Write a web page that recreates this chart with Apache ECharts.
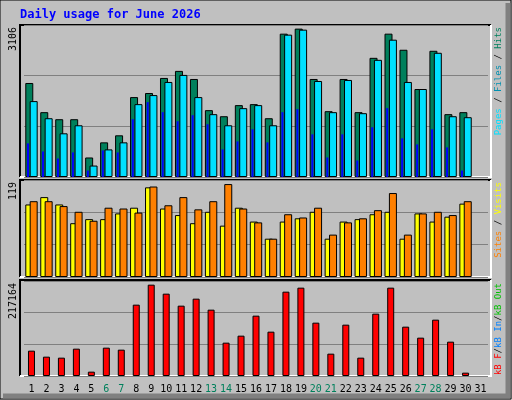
<!DOCTYPE html>
<html><head><meta charset="utf-8">
<script src="https://cdn.jsdelivr.net/npm/echarts@6/dist/echarts.min.js"></script>
<style>html,body{margin:0;padding:0;background:#c0c0c0}#c{width:512px;height:400px}</style>
</head><body><div id="c"></div>
<script>
const days = ['1','2','3','4','5','6','7','8','9','10','11','12','13','14','15','16','17','18','19','20','21','22','23','24','25','26','27','28','29','30','31'];
const weekend = ['6','7','13','14','20','21','27','28'];
const hits  = [1921,1325,1181,1181,399,708,852,1633,1716,2024,2168,2003,1366,1242,1469,1489,1201,2929,3032,2003,1345,2003,1325,2435,2929,2600,1798,2579,1284,1325,'-'];
const files = [1551,1201,893,1057,234,564,708,1489,1674,1942,2086,1633,1284,1057,1407,1469,1057,2909,3011,1962,1325,1983,1304,2394,2806,1942,1798,2538,1242,1222,'-'];
const pages = [687,522,378,502,132,543,502,1181,1530,1325,1140,1263,1078,564,728,975,708,1325,1386,872,399,872,337,1016,1407,790,666,975,605,132,'-'];
const visits = [89,98,89,66,71,71,78,85,110,84,76,66,80,63,85,68,47,68,72,80,47,68,71,77,80,47,78,68,74,90,'-'];
const sites  = [93,93,87,80,69,85,84,79,111,88,98,83,93,114,84,67,47,77,73,85,52,67,72,82,103,52,78,80,76,93,'-'];
const kbytes = [57910,44195,41909,62482,9906,64768,60196,163061,208780,188209,160775,176777,151632,76198,92199,137916,101343,192781,201924,121917,51052,117345,41909,142488,201924,112773,87627,128772,78484,7620,'-'];
const maxHits = 3106, maxVisits = 119, maxKB = 217164;

const chart = echarts.init(document.getElementById('c'));
const L = 24, W = 464;
const grids = [
  {left:L, width:W, top:25, height:152},
  {left:L, width:W, top:180, height:97},
  {left:L, width:W, top:281, height:95}
];
const bs = {borderColor:'#000', borderWidth:1};
const mono = 'DejaVu Sans Mono';
function xa(gi, show){
  return {type:'category', data:days, gridIndex:gi, show:show, boundaryGap:true,
    axisLine:{show:false}, axisTick:{show:false},
    axisLabel:{show:show, fontFamily:mono, fontSize:10, margin:8,
      color:(v)=>weekend.includes(v)?'#00805c':'#000', interval:0}};
}
function ya(gi, max){
  return {type:'value', gridIndex:gi, min:0, max:max, interval:max/3,
    axisLabel:{show:false}, axisLine:{show:false}, axisTick:{show:false},
    splitLine:{show:true, lineStyle:{color:'#808080', width:1}}};
}
function frame(y, h){
  return [
    {type:'rect', shape:{x:20,y:y,width:471,height:h}, style:{fill:'#c0c0c0'}, z:-10, silent:true},
    {type:'polyline', shape:{points:[[20,y+h],[20,y],[491,y]]}, style:{stroke:'#000', lineWidth:2, fill:null}, z:-9},
    {type:'polyline', shape:{points:[[491,y],[491,y+h],[20,y+h]]}, style:{stroke:'#fff', lineWidth:2, fill:null}, z:-9}
  ];
}
const F = '9px '+mono;
function vtext(x, y, text){
  return {type:'text', x:x, y:y, rotation:Math.PI/2, style:{text:text, font:'10px '+mono, fill:'#000', align:'right', verticalAlign:'middle'}};
}
chart.setOption({
  animation:false,
  backgroundColor:'#c0c0c0',
  grid:grids,
  xAxis:[xa(0,false), xa(0,false), xa(1,false), xa(2,true)],
  yAxis:[ya(0,maxHits), ya(0,maxHits), ya(1,maxVisits), ya(2,maxKB)],
  graphic:[
    {type:'rect', shape:{x:0,y:0,width:511,height:399}, style:{fill:null, stroke:'#000', lineWidth:1}, z:-20},
    {type:'polyline', shape:{points:[[508,3],[508,396],[3,396]]}, style:{stroke:'#808080', lineWidth:5, fill:null}, z:-20},
    {type:'text', x:20, y:9, style:{text:'Daily usage for June 2026', font:'bold 12px '+mono, fill:'#0000ff'}},
    ...frame(25,152), ...frame(180,97), ...frame(280,96),
    vtext(13, 27, '3106'),
    vtext(13, 182, '119'),
    vtext(13, 283, '217164'),
    {type:'text', x:499, y:27, rotation:Math.PI/2, style:{align:'right', verticalAlign:'middle', font:F,
      text:'{p|Pages}{s| / }{f|Files}{s| / }{h|Hits}',
      rich:{p:{fill:'#00e0ff',font:F},f:{fill:'#0090b0',font:F},h:{fill:'#00805c',font:F},s:{fill:'#000',font:F}}}},
    {type:'text', x:499, y:182, rotation:Math.PI/2, style:{align:'right', verticalAlign:'middle', font:F,
      text:'{s|Sites}{k| / }{v|Visits}',
      rich:{s:{fill:'#ff8000',font:F},v:{fill:'#ffff00',font:F},k:{fill:'#000',font:F}}}},
    {type:'text', x:499, y:283, rotation:Math.PI/2, style:{align:'right', verticalAlign:'middle', font:F,
      text:'{r|kB F}{k|/}{b|kB In}{k|/}{g|kB Out}',
      rich:{r:{fill:'#ff0000',font:F},b:{fill:'#0080ff',font:F},g:{fill:'#00c000',font:F},k:{fill:'#000',font:F}}}}
  ],
  series:[
    {type:'bar', xAxisIndex:0, yAxisIndex:0, data:hits, barWidth:8, barGap:'-45%', itemStyle:{color:'#00805c', ...bs}},
    {type:'bar', xAxisIndex:0, yAxisIndex:0, data:files, barWidth:8, barGap:'-45%', itemStyle:{color:'#00e0ff', ...bs}, z:3},
    {type:'bar', xAxisIndex:1, yAxisIndex:1, data:pages, barWidth:2, barGap:'0%', itemStyle:{color:'#0000ff'}, z:5},
    {type:'bar', xAxisIndex:1, yAxisIndex:1, data:days.map(()=>'-'), barWidth:7, barGap:'0%'},
    {type:'bar', xAxisIndex:2, yAxisIndex:2, data:visits, barWidth:8, barGap:'-45%', itemStyle:{color:'#ffff00', ...bs}},
    {type:'bar', xAxisIndex:2, yAxisIndex:2, data:sites, barWidth:8, barGap:'-45%', itemStyle:{color:'#ff8000', ...bs}, z:3},
    {type:'bar', xAxisIndex:3, yAxisIndex:3, data:kbytes, barWidth:7, itemStyle:{color:'#ff0000', ...bs}}
  ]
});
</script></body></html>
